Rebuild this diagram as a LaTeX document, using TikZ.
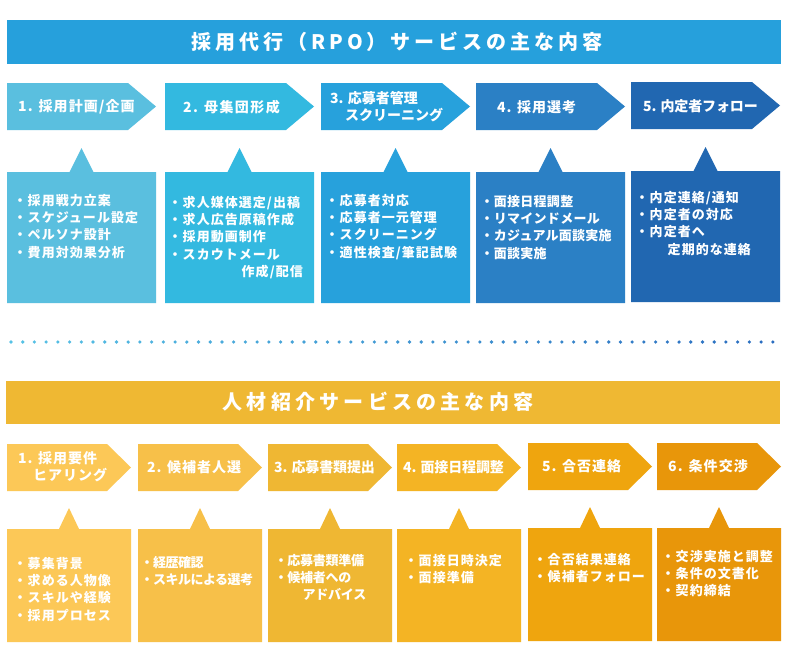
\documentclass[tikz,border=0pt]{standalone}
\usepackage{fontspec}
\newfontfamily\jp{Noto Sans CJK JP}
\definecolor{ttl}{HTML}{26A0DC}
\definecolor{ta}{HTML}{5ABFDF}
\definecolor{tb}{HTML}{33B9E0}
\definecolor{tc}{HTML}{27A1DC}
\definecolor{td}{HTML}{2B80C5}
\definecolor{te}{HTML}{2167B1}
\definecolor{btl}{HTML}{EFB833}
\definecolor{ba}{HTML}{FCC857}
\definecolor{bb}{HTML}{F7C049}
\definecolor{bc}{HTML}{EFB733}
\definecolor{bd}{HTML}{F4B424}
\definecolor{be}{HTML}{EFA50E}
\definecolor{bf}{HTML}{E8960A}
\definecolor{dotA}{HTML}{56C2E6}
\definecolor{dotB}{HTML}{2A6DC0}
\newcommand\mychev[5]{%
  \fill[#5] (#1,#2) -- ++(#3-#4,0) -- ++(#4,23.5) -- ++(-#4,23.5) -- ++(#4-#3,0) -- cycle;}
\newcommand\myballoon[7]{%
  \fill[#7] (#1,#2) -- ({#1+#3/2-#6},#2) -- ({#1+#3/2},{#2-#5}) -- ({#1+#3/2+#6},#2)
    -- ({#1+#3},#2) -- ({#1+#3},#4) -- (#1,#4) -- cycle;}
\tikzset{
  titletext/.style={anchor=center, inner sep=0, text=white,
    font={\jp\bfseries\fontsize{20}{23}\selectfont\addfontfeature{LetterSpace=#1}}},
  headtext/.style={anchor=west, inner sep=0, text=white, align=left,
    font={\jp\bfseries\fontsize{14}{17}\selectfont\addfontfeature{LetterSpace=#1}}},
  headtext/.default=7,
  bodytext/.style={anchor=north west, inner sep=0, text=white, align=left,
    font={\jp\bfseries\fontsize{13}{17.3}\selectfont\addfontfeature{LetterSpace=#1}}},
  bodytext/.default=8
}
\begin{document}
\begin{tikzpicture}[x=1pt,y=-1pt]
\useasboundingbox[fill=white] (0,0) rectangle (786,664);
% ---------- top section ----------
\fill[ttl] (7,20) rectangle (781,64);
\node[titletext=20] (t-title) at (397,42) {採用代行（RPO）サービスの主な内容};
\mychev{7}{83}{149}{28}{ta}
\mychev{165}{83}{149}{28}{tb}
\mychev{321}{83}{149}{28}{tc}
\mychev{476}{83}{149}{28}{td}
\mychev{631}{82}{149}{28}{te}
\node[headtext=8] (th1) at (18,107) {1. 採用計画/企画};
\node[headtext=10] (th2) at (183,107) {2. 母集団形成};
\node[headtext=0] (th3) at (330,106.5) {3. 応募者管理\\\hspace*{15pt}スクリーニング};
\node[headtext=7] (th4) at (497,107) {4. 採用選考};
\node[headtext=-1] (th5) at (643,106) {5. 内定者フォロー};
\myballoon{7}{172}{149}{303}{24}{12}{ta}
\myballoon{165}{172}{149}{303}{24}{12}{tb}
\myballoon{321}{172}{149}{303}{24}{12}{tc}
\myballoon{476}{172}{149}{303}{24}{12}{td}
\myballoon{631}{171}{149}{302}{24}{12}{te}
\node[bodytext] (tb1) at (13.5,192.8) {\strut・採用戦力立案\\・スケジュール設定\\・ペルソナ設計\\・費用対効果分析};
\node[bodytext] (tb2) at (168.5,194.8) {\strut・求人媒体選定/出稿\\・求人広告原稿作成\\・採用動画制作\\・スカウトメール\\\hspace*{73pt}作成/配信};
\node[bodytext] (tb3) at (325.5,192.8) {\strut・応募者対応\\・応募者一元管理\\・スクリーニング\\・適性検査/筆記試験};
\node[bodytext=2] (tb4) at (480.5,193.8) {\strut・面接日程調整\\・リマインドメール\\・カジュアル面談実施\\・面談実施};
\node[bodytext] (tb5) at (635.5,189.8) {\strut・内定連絡/通知\\・内定者の対応\\・内定者へ\\\hspace*{32pt}定期的な連絡};
% ---------- dotted separator ----------
\foreach \i in {0,...,65}{
  \pgfmathsetmacro\p{100-\i*100/65}
  \fill[dotA!\p!dotB] ({11+\i*11.72},342) circle[radius=1.8];
}
% ---------- bottom section ----------
\fill[btl] (6,381) rectangle (780,424);
\node[titletext=21] (b-title) at (378,402) {人材紹介サービスの主な内容};
\mychev{7}{444}{124}{24}{ba}
\mychev{138}{444}{124}{24}{bb}
\mychev{268}{444}{124}{24}{bc}
\mychev{397}{444}{124}{24}{bd}
\mychev{528}{443}{124}{24}{be}
\mychev{657}{443}{124}{24}{bf}
\node[headtext=7] (bh1) at (18,466.5) {1. 採用要件\\\hspace*{15pt}ヒアリング};
\node[headtext=7] (bh2) at (147,467) {2. 候補者人選};
\node[headtext=-1] (bh3) at (274,467) {3. 応募書類提出};
\node[headtext=-1] (bh4) at (403,467) {4. 面接日程調整};
\node[headtext=7] (bh5) at (542,466) {5. 合否連絡};
\node[headtext=8] (bh6) at (668,466) {6. 条件交渉};
\myballoon{7}{529}{124}{642}{21}{10}{ba}
\myballoon{138}{529}{124}{642}{21}{10}{bb}
\myballoon{268}{529}{124}{642}{21}{10}{bc}
\myballoon{397}{529}{124}{642}{21}{10}{bd}
\myballoon{528}{528}{124}{641}{21}{10}{be}
\myballoon{657}{528}{124}{641}{21}{10}{bf}
\node[bodytext] (bb1) at (13.5,555.8) {\strut・募集背景\\・求める人物像\\・スキルや経験\\・採用プロセス};
\node[bodytext=-4] (bb2) at (140.5,554.8) {\strut・経歴確認\\・スキルによる選考};
\node[bodytext=-2] (bb3) at (274.5,552.8) {\strut・応募書類準備\\・候補者への\\\hspace*{28pt}アドバイス};
\node[bodytext] (bb4) at (404.5,552.8) {\strut・面接日時決定\\・面接準備};
\node[bodytext] (bb5) at (533.5,551.8) {\strut・合否結果連絡\\・候補者フォロー};
\node[bodytext] (bb6) at (661.5,548.8) {\strut・交渉実施と調整\\・条件の文書化\\・契約締結};
\end{tikzpicture}
\end{document}
